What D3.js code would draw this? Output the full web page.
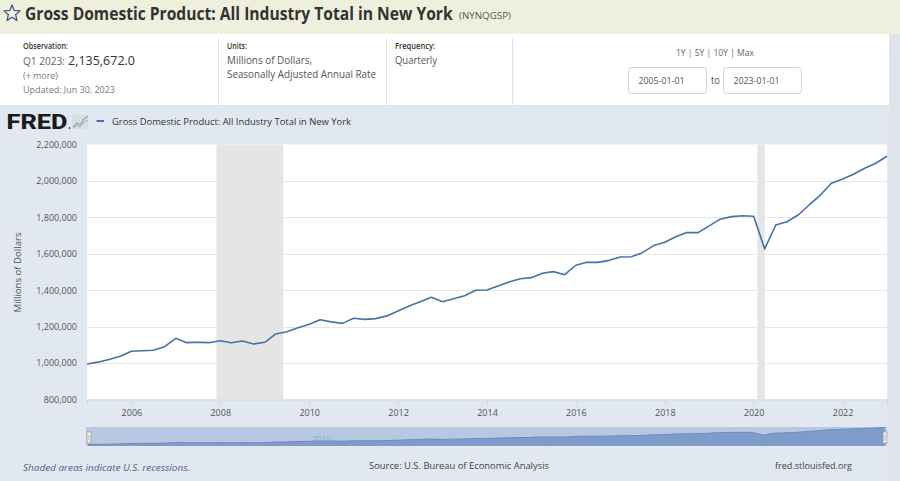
<!DOCTYPE html>
<html>
<head>
<meta charset="utf-8">
<script src="https://cdn.jsdelivr.net/npm/d3@7"></script>
<style>
  html, body { margin: 0; padding: 0; background: #e1e8ef; }
  svg { display: block; font-family: "Open Sans", "Noto Sans", sans-serif; }
</style>
</head>
<body>
<svg id="chart" width="900" height="481"></svg>
<script>
// ---------------- DATA ----------------
const quarterDates = d3.range(73).map(i => new Date(Date.UTC(2005, i * 3, 1)));
const gdpValues = [
  995000, 1005000, 1020000, 1038000,
  1065000, 1068000, 1070000, 1090000,
  1136000, 1112000, 1114000, 1112000,
  1123000, 1112000, 1121000, 1105000,
  1114000, 1160000, 1172000, 1194000,
  1213000, 1238000, 1226000, 1218000,
  1246000, 1240000, 1244000, 1259000,
  1286000, 1313000, 1337000, 1361000,
  1337000, 1353000, 1370000, 1400000,
  1401000, 1423000, 1445000, 1463000,
  1469000, 1493000, 1502000, 1485000,
  1537000, 1553000, 1553000, 1564000,
  1582000, 1584000, 1606000, 1645000,
  1663000, 1694000, 1717000, 1716000,
  1753000, 1790000, 1804000, 1809000,
  1806000, 1627000, 1758000, 1776000,
  1813000, 1868000, 1921000, 1987000,
  2011000, 2037000, 2070000, 2097000,
  2135672
];
const yTickValues = [800000, 1000000, 1200000, 1400000, 1600000, 1800000, 2000000, 2200000];
const xTickYears = [2006, 2008, 2010, 2012, 2014, 2016, 2018, 2020, 2022];
const navLabelYears = [2010, 2015, 2020];
const recessionStarts = ["2007-12-01", "2020-02-01"];
const recessionEnds = ["2009-06-01", "2020-04-01"];
const seriesTitle = "Gross Domestic Product: All Industry Total in New York";
const seriesId = "(NYNQGSP)";

const data = quarterDates.map((d, i) => ({ date: d, value: gdpValues[i] }));
const parse = s => new Date(s + "T00:00:00Z");

// ---------------- LAYOUT ----------------
const svg = d3.select("#chart");
const plot = { left: 87, right: 887, top: 144.5, bottom: 399.5 };

// Backgrounds
svg.append("rect").attr("x", 0).attr("y", 0).attr("width", 900).attr("height", 481).attr("fill", "#e1e8ef");
svg.append("rect").attr("x", 0).attr("y", 0).attr("width", 900).attr("height", 34).attr("fill", "#efefdd");
svg.append("rect").attr("x", 0).attr("y", 34).attr("width", 889).attr("height", 71).attr("fill", "#ffffff");
svg.append("rect").attr("x", 889).attr("y", 34).attr("width", 11).attr("height", 447).attr("fill", "#dfe4ea");

// Star icon
const starPts = d3.range(10).map(i => {
  const r = i % 2 === 0 ? 8.5 : 3.8;
  const a = -Math.PI / 2 + i * Math.PI / 5;
  return [12 + r * Math.cos(a), 13.5 + r * Math.sin(a)];
});
svg.append("path").attr("d", d3.line()(starPts) + "Z")
  .attr("fill", "none").attr("stroke", "#3d5a85").attr("stroke-width", 1.3).attr("stroke-linejoin", "round");

// Title (scaled horizontally to fit the measured width)
function fitText(parent, x, yPos, width, size, color, txt, weight) {
  const g = parent.append("g");
  const el = g.append("text").attr("x", 0).attr("y", 0)
    .attr("font-size", size).attr("fill", color).text(txt);
  if (weight) el.attr("font-weight", weight);
  const natural = el.node().getComputedTextLength();
  g.attr("transform", `translate(${x},${yPos}) scale(${width / natural},1)`);
  return g;
}
fitText(svg, 25, 19.5, 428, 17, "#333", seriesTitle, 700);
fitText(svg, 459, 19, 52, 8.5, "#555", seriesId);

// Info panel
const info = svg.append("g");
function t(x, y, size, color, txt, opts = {}) {
  const el = info.append("text").attr("x", x).attr("y", y).attr("font-size", size).attr("fill", color).text(txt);
  if (opts.w) el.attr("textLength", opts.w).attr("lengthAdjust", "spacingAndGlyphs");
  if (opts.weight) el.attr("font-weight", opts.weight);
  if (opts.anchor) el.attr("text-anchor", opts.anchor);
  return el;
}
t(23, 49, 8, "#333", "Observation:", { w: 45, weight: 600 });
t(23, 64.5, 10.5, "#666", "Q1 2023:", { w: 42 });
t(68, 64.5, 12.5, "#333", "2,135,672.0", { w: 67 });
t(23, 78.5, 8.5, "#777", "(+ more)", { w: 35 });
t(23, 92.5, 9.5, "#777", "Updated: Jun 30, 2023", { w: 92 });
t(227, 49, 8, "#333", "Units:", { w: 20, weight: 600 });
t(227, 64, 10, "#555", "Millions of Dollars,", { w: 85 });
t(227, 78, 10, "#555", "Seasonally Adjusted Annual Rate", { w: 149 });
t(395, 49, 8, "#333", "Frequency:", { w: 40, weight: 600 });
t(395, 64, 10, "#555", "Quarterly", { w: 42 });
t(715, 56, 9, "#666", "1Y | 5Y | 10Y | Max", { w: 78, anchor: "middle" });
[[628.5, "2005-01-01"], [723.5, "2023-01-01"]].forEach(([x, s]) => {
  info.append("rect").attr("x", x).attr("y", 67.5).attr("width", 78).attr("height", 26).attr("rx", 3)
    .attr("fill", "#fff").attr("stroke", "#d4d4d4");
  t(x + 10, 83.5, 9, "#555", s, { w: 46 });
});
t(711, 84, 10, "#555", "to", { w: 9 });
[218.5, 386.5, 512.5].forEach(x => {
  info.append("line").attr("x1", x).attr("x2", x).attr("y1", 38).attr("y2", 105).attr("stroke", "#e3e3e3");
});

// FRED logo
svg.append("text").attr("x", 6.5).attr("y", 129).attr("font-size", 21).attr("font-weight", 800)
  .attr("fill", "#1b1b1b").attr("textLength", 61).attr("lengthAdjust", "spacingAndGlyphs")
  .attr("font-family", "Roboto, 'Open Sans', sans-serif").text("FRED");
svg.append("circle").attr("cx", 69.5).attr("cy", 128).attr("r", 0.9).attr("fill", "#444");
const logoIcon = svg.append("g");
logoIcon.append("rect").attr("x", 72).attr("y", 115).attr("width", 16).attr("height", 14).attr("fill", "#d7dde4");
logoIcon.append("path").attr("d", "M73,127 L77,123 L80,125 L84,119 L88,116").attr("fill", "none").attr("stroke", "#8fb08a").attr("stroke-width", 1.2);
logoIcon.append("path").attr("d", "M73,128 L77,125 L80,127 L84,122 L88,120").attr("fill", "none").attr("stroke", "#9aaacb").attr("stroke-width", 1);

// Legend
svg.append("line").attr("x1", 96.5).attr("x2", 104).attr("y1", 121).attr("y2", 121).attr("stroke", "#4572a7").attr("stroke-width", 2);
svg.append("text").attr("x", 112).attr("y", 124.5).attr("font-size", 9.5).attr("fill", "#333")
  .attr("textLength", 239).attr("lengthAdjust", "spacingAndGlyphs").text(seriesTitle);

// Scales
const x = d3.scaleUtc().domain([parse("2005-01-01"), parse("2023-01-01")]).range([plot.left, plot.right]);
const y = d3.scaleLinear().domain([800000, 2200000]).range([plot.bottom, plot.top]);

// Plot background
svg.append("rect").attr("x", plot.left).attr("y", plot.top).attr("width", plot.right - plot.left)
  .attr("height", plot.bottom - plot.top).attr("fill", "#ffffff");

// Recessions
svg.append("g").selectAll("rect").data(recessionStarts.map((s, i) => [parse(s), parse(recessionEnds[i])]))
  .join("rect")
  .attr("x", d => x(d[0])).attr("width", d => x(d[1]) - x(d[0]))
  .attr("y", plot.top).attr("height", plot.bottom - plot.top)
  .attr("fill", "#e5e5e5");

// Gridlines
svg.append("g").selectAll("line").data(yTickValues.slice(1, -1)).join("line")
  .attr("x1", plot.left).attr("x2", plot.right)
  .attr("y1", d => Math.round(y(d)) + 0.5).attr("y2", d => Math.round(y(d)) + 0.5)
  .attr("stroke", "#e6e6e6").attr("stroke-width", 1);

// Y axis
const fmt = d3.format(",");
const yAxis = svg.append("g").attr("transform", `translate(${plot.left - 10},0)`)
  .call(d3.axisLeft(y).tickValues(yTickValues).tickFormat(fmt).tickSize(0).tickPadding(0));
yAxis.select(".domain").remove();
yAxis.selectAll("text").attr("font-size", 9).attr("fill", "#555")
  .attr("font-family", "'Open Sans', sans-serif").attr("dy", "0.32em");

svg.append("text").attr("transform", "translate(20.5,272.5) rotate(-90)").attr("text-anchor", "middle")
  .attr("font-size", 9).attr("fill", "#555").attr("textLength", 80).attr("lengthAdjust", "spacingAndGlyphs")
  .text("Millions of Dollars");

// X axis
const xAxis = svg.append("g").attr("transform", `translate(0,${plot.bottom})`)
  .call(d3.axisBottom(x).tickValues(xTickYears.map(yr => new Date(Date.UTC(yr, 0, 1))))
    .tickFormat(d3.utcFormat("%Y")).tickSize(5).tickPadding(5));
xAxis.select(".domain").attr("stroke", "#ccd6eb");
xAxis.selectAll(".tick line").attr("stroke", "#ccd6eb");
xAxis.selectAll("text").attr("font-size", 9).attr("fill", "#555").attr("font-family", "'Open Sans', sans-serif");

// Series line
svg.append("path").datum(data)
  .attr("d", d3.line().x(d => x(d.date)).y(d => y(d.value)))
  .attr("fill", "none").attr("stroke", "#4572a7").attr("stroke-width", 1.6).attr("stroke-linejoin", "round");

// Navigator
const nav = { left: 86, right: 887, top: 427, bottom: 446 };
const nx = d3.scaleUtc().domain([parse("2005-01-01"), parse("2023-01-01")]).range([nav.left + 2, nav.right - 2]);
const ny = d3.scaleLinear().domain(d3.extent(gdpValues)).range([nav.bottom - 1.5, nav.top + 0.5]);
svg.append("rect").attr("x", nav.left).attr("y", nav.top).attr("width", nav.right - nav.left)
  .attr("height", nav.bottom - nav.top).attr("fill", "#b9c8e2");
svg.append("path").datum(data)
  .attr("d", d3.area().x(d => nx(d.date)).y0(nav.bottom).y1(d => ny(d.value)))
  .attr("fill", "#7f9bc9");
svg.append("path").datum(data)
  .attr("d", d3.line().x(d => nx(d.date)).y(d => ny(d.value)))
  .attr("fill", "none").attr("stroke", "#6d8bc0").attr("stroke-width", 1);
svg.append("g").selectAll("text").data(navLabelYears).join("text")
  .attr("x", d => nx(new Date(Date.UTC(d, 0, 1))) + 3).attr("y", 441)
  .attr("font-size", 8).attr("fill", "#8a9ab8").attr("opacity", 0.7).text(d => d);
[nav.left + 1, nav.right - 4].forEach(hx => {
  svg.append("rect").attr("x", hx).attr("y", 432).attr("width", 4).attr("height", 11)
    .attr("fill", "#f2f2f2").attr("stroke", "#999").attr("stroke-width", 0.7);
  svg.append("line").attr("x1", hx + 2).attr("x2", hx + 2).attr("y1", 434.5).attr("y2", 440.5)
    .attr("stroke", "#888").attr("stroke-width", 0.6);
});

// Footer
svg.append("text").attr("x", 23).attr("y", 471).attr("font-size", 9).attr("font-style", "italic")
  .attr("fill", "#4e5f8a").attr("textLength", 167).attr("lengthAdjust", "spacingAndGlyphs")
  .text("Shaded areas indicate U.S. recessions.");
svg.append("text").attr("x", 369).attr("y", 469).attr("font-size", 9.5).attr("fill", "#444")
  .attr("textLength", 180).attr("lengthAdjust", "spacingAndGlyphs")
  .text("Source: U.S. Bureau of Economic Analysis");
svg.append("text").attr("x", 775).attr("y", 469).attr("font-size", 9.5).attr("fill", "#444")
  .attr("textLength", 77).attr("lengthAdjust", "spacingAndGlyphs")
  .text("fred.stlouisfed.org");
</script>
</body>
</html>
